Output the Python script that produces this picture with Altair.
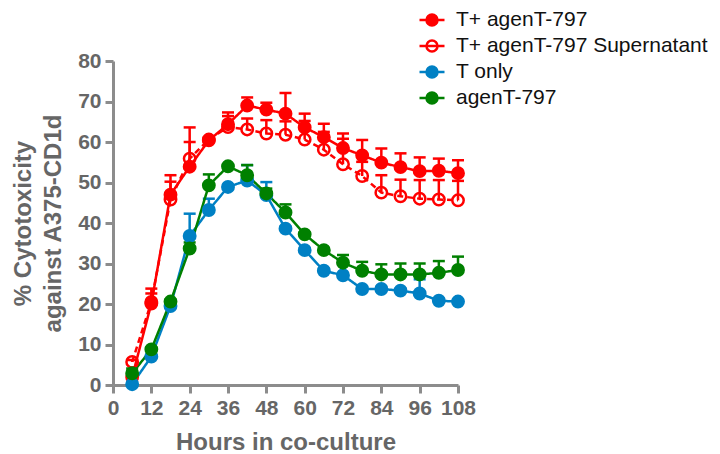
import altair as alt
import pandas as pd

hours = [6, 12, 18, 24, 30, 36, 42, 48, 54, 60, 66, 72, 78, 84, 90, 96, 102, 108]

series_names = ["T+ agenT-797", "T+ agenT-797 Supernatant", "T only", "agenT-797"]

t_agent_mean = [2.0, 20.1, 47.0, 53.9, 60.4, 64.4, 69.0, 68.0, 67.0, 63.6, 61.2, 58.5, 56.7, 54.9, 53.8, 52.8, 52.9, 52.3]
t_agent_err = [0.5, 3.7, 4.8, 6.1, 0.8, 2.9, 2.0, 1.7, 5.1, 3.4, 3.3, 3.6, 3.8, 3.5, 3.4, 3.4, 3.0, 3.2]

t_super_mean = [5.7, 20.5, 45.8, 55.9, 60.6, 63.7, 63.1, 62.1, 61.8, 60.6, 58.1, 54.5, 51.6, 47.5, 46.6, 46.0, 45.8, 45.6]
t_super_err = [0.5, 2.1, 4.4, 7.7, 0.5, 2.7, 2.7, 3.3, 3.3, 4.6, 4.4, 6.3, 3.5, 4.3, 4.1, 4.6, 4.8, 4.8]

t_only_mean = [0.2, 7.0, 19.5, 36.8, 43.2, 48.9, 50.5, 46.9, 38.6, 33.3, 28.2, 27.1, 23.7, 23.7, 23.3, 22.6, 20.8, 20.6]
t_only_err = [0.5, 0.5, 0.5, 5.5, 2.8, 0.5, 3.8, 3.2, 0.5, 0.5, 0.5, 2.9, 0.5, 0.5, 0.5, 3.5, 0.5, 0.5]

agent_mean = [2.9, 8.8, 20.6, 33.7, 49.3, 54.0, 51.8, 47.3, 42.6, 37.2, 33.3, 30.2, 28.2, 27.3, 27.3, 27.3, 27.7, 28.4]
agent_err = [1.2, 0.5, 0.5, 1.5, 2.7, 0.5, 2.5, 1.2, 2.0, 0.5, 0.5, 1.9, 2.2, 2.5, 2.7, 2.7, 2.9, 3.3]

x_ticks = [0, 12, 24, 36, 48, 60, 72, 84, 96, 108]
y_ticks = [0, 10, 20, 30, 40, 50, 60, 70, 80]

stroke_colors = ["#FF0000", "#FF0000", "#0080C4", "#008000"]
fill_colors = ["#FF0000", "transparent", "#0080C4", "#008000"]
dash_styles = [[1, 0], [6, 4], [1, 0], [1, 0]]

rows = []
for name, means, errs in zip(
    series_names,
    [t_agent_mean, t_super_mean, t_only_mean, agent_mean],
    [t_agent_err, t_super_err, t_only_err, agent_err],
):
    for h, v, e in zip(hours, means, errs):
        rows.append({"series": name, "hours": h, "value": v, "top": v + e})
df = pd.DataFrame(rows)

y_title = ["% Cytotoxicity", "against A375-CD1d"]
x_enc = alt.X(
    "hours:Q",
    scale=alt.Scale(domain=[0, 108], nice=False),
    axis=alt.Axis(values=x_ticks, title="Hours in co-culture", titlePadding=12,
                  labelOverlap=False, labelFlush=False),
)
y_axis = alt.Axis(values=y_ticks, title=y_title, titlePadding=12, titleLineHeight=30,
                  labelOverlap=False)
y_scale = alt.Scale(domain=[0, 80], nice=False)

# line / error-bar scales use the reversed domain order so that their (hidden)
# legends are not merged with the visible point legend
rev_names = series_names[::-1]
color_enc = alt.Color(
    "series:N", scale=alt.Scale(domain=rev_names, range=stroke_colors[::-1]), legend=None
)
dash_enc = alt.StrokeDash(
    "series:N", scale=alt.Scale(domain=rev_names, range=dash_styles[::-1]), legend=None
)

legend_path = (
    "M-1,0L1,0"
    "M-0.44,0C-0.44,-0.243,-0.243,-0.44,0,-0.44"
    "C0.243,-0.44,0.44,-0.243,0.44,0"
    "C0.44,0.243,0.243,0.44,0,0.44"
    "C-0.243,0.44,-0.44,0.243,-0.44,0Z"
)
leg = alt.Legend(
    title=None,
    orient="none",
    legendX=305,
    legendY=-55,
    symbolType=legend_path,
    symbolSize=625,
    symbolStrokeWidth=2.5,
    labelFont="Liberation Sans",
    labelFontSize=21,
    labelColor="#111111",
    labelOffset=10,
    labelLimit=400,
    rowPadding=1,
)

base = alt.Chart(df)

err_rule = base.mark_rule(strokeWidth=2.5).encode(
    x=x_enc,
    y=alt.Y("value:Q", scale=y_scale, axis=y_axis, title=y_title),
    y2="top:Q",
    color=color_enc,
)
err_cap = base.mark_tick(thickness=2.5, size=12, orient="horizontal", opacity=1).encode(
    x=x_enc,
    y=alt.Y("top:Q", scale=y_scale, axis=y_axis, title=y_title),
    color=color_enc,
)
lines = base.mark_line(strokeWidth=2.5).encode(
    x=x_enc,
    y=alt.Y("value:Q", scale=y_scale, axis=y_axis, title=y_title),
    color=color_enc,
    strokeDash=dash_enc,
    detail="series:N",
)
points = base.mark_point(size=130, strokeWidth=2.5, opacity=1, filled=True).encode(
    x=x_enc,
    y=alt.Y("value:Q", scale=y_scale, axis=y_axis, title=y_title),
    stroke=alt.Stroke("series:N", scale=alt.Scale(domain=series_names, range=stroke_colors), legend=leg),
    fill=alt.Fill("series:N", scale=alt.Scale(domain=series_names, range=fill_colors), legend=leg),
)

chart = (
    alt.layer(err_rule, err_cap, lines, points)
    .properties(
        width=345,
        height=324,
        autosize=alt.AutoSizeParams(type="none"),
        padding={"left": 113, "top": 61, "right": 262, "bottom": 69},
        background="white",
    )
    .configure_view(stroke=None)
    .configure_axis(
        grid=False,
        labelFont="Liberation Sans",
        labelFontSize=21,
        labelFontWeight="bold",
        labelColor="#666666",
        labelPadding=4,
        titleFont="Liberation Sans",
        titleFontSize=24,
        titleFontWeight="bold",
        titleColor="#666666",
        domainColor="#8c8c8c",
        domainWidth=3,
        tickColor="#8c8c8c",
        tickWidth=3,
        tickSize=8,
    )
)

chart.save("out.html", embed_options={"renderer": "svg", "actions": False})
